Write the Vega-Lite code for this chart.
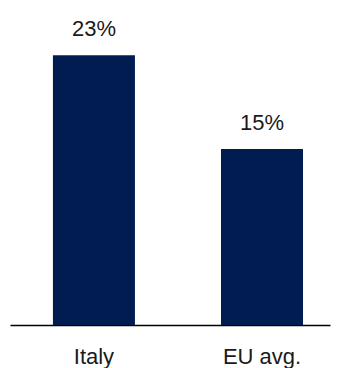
{
  "$schema": "https://vega.github.io/schema/vega-lite/v6.json",
  "width": 320,
  "height": 325,
  "autosize": {"type": "none"},
  "padding": {"left": 10, "top": 0, "right": 11, "bottom": 43},
  "background": "white",
  "config": {"view": {"stroke": null}, "font": "Liberation Sans"},
  "data": {"values": [
    {"region": "Italy", "value": 23, "label": "23%"},
    {"region": "EU avg.", "value": 15, "label": "15%"}
  ]},
  "encoding": {
    "x": {
      "field": "region", "type": "nominal", "sort": null,
      "scale": {"paddingInner": 0.512, "paddingOuter": 0.208, "align": 0.614},
      "axis": {
        "title": null, "labelAngle": 0, "ticks": false, "tickSize": 0,
        "domainColor": "#000000", "domainWidth": 1.5,
        "labelFont": "Liberation Sans", "labelFontWeight": "normal", "labelFontSize": 22, "labelColor": "#1a1a1a",
        "labelBaseline": "alphabetic", "labelPadding": 38
      }
    },
    "y": {
      "field": "value", "type": "quantitative",
      "scale": {"domain": [0, 27.7], "nice": false, "zero": true},
      "axis": null
    }
  },
  "layer": [
    {"mark": {"type": "bar", "color": "#001c50"}},
    {
      "mark": {"type": "text", "font": "Liberation Sans", "fontWeight": "normal", "fontSize": 22, "color": "#1a1a1a", "baseline": "alphabetic", "dy": -19},
      "encoding": {"text": {"field": "label"}}
    }
  ]
}
